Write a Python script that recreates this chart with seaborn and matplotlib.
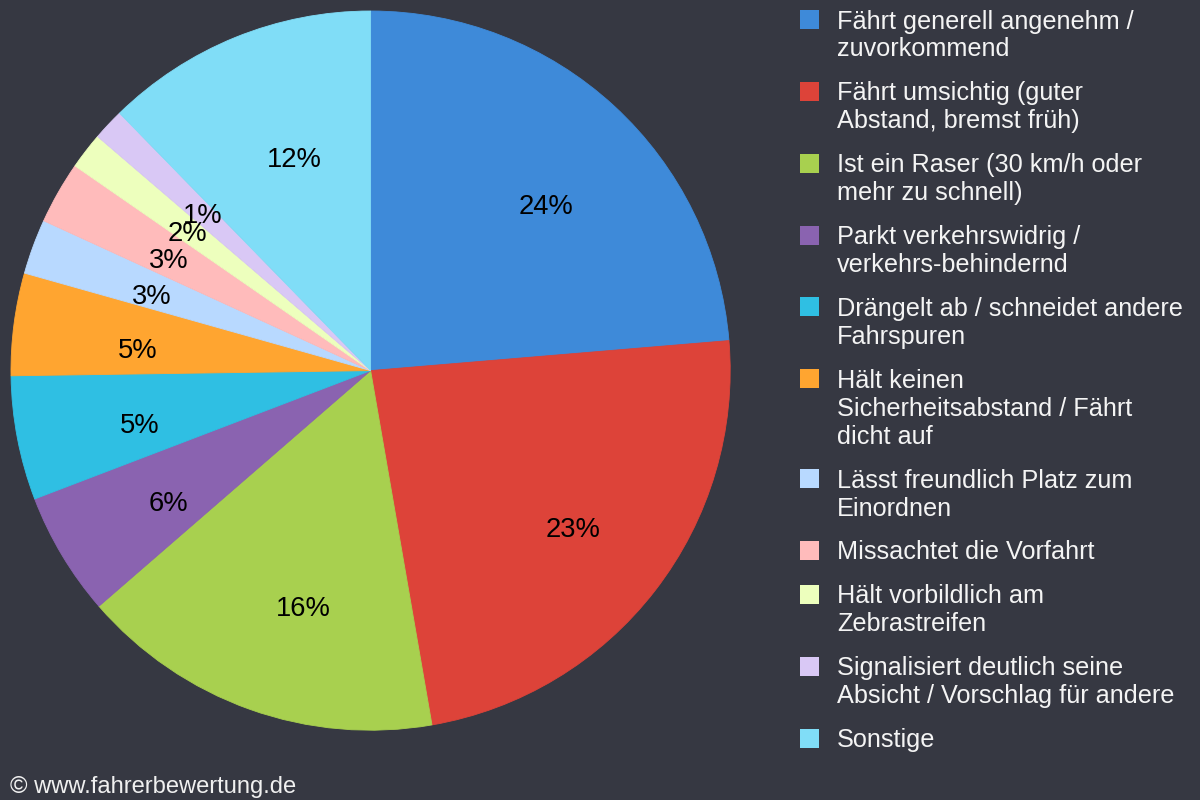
import matplotlib
matplotlib.use("Agg")
import matplotlib.pyplot as plt
import seaborn as sns
from matplotlib.patches import Rectangle

categories = [
    "Fährt generell angenehm /\nzuvorkommend",
    "Fährt umsichtig (guter\nAbstand, bremst früh)",
    "Ist ein Raser (30 km/h oder\nmehr zu schnell)",
    "Parkt verkehrswidrig /\nverkehrs-behindernd",
    "Drängelt ab / schneidet andere\nFahrspuren",
    "Hält keinen\nSicherheitsabstand / Fährt\ndicht auf",
    "Lässt freundlich Platz zum\nEinordnen",
    "Missachtet die Vorfahrt",
    "Hält vorbildlich am\nZebrastreifen",
    "Signalisiert deutlich seine\nAbsicht / Vorschlag für andere",
    "Sonstige",
]
values = [23.67, 23.6, 16.36, 5.56, 5.58, 4.6, 2.47, 2.8, 1.64, 1.42, 12.3]
pct_labels = ["24%", "23%", "16%", "6%", "5%", "5%", "3%", "3%", "2%", "1%", "12%"]
colors = ["#3E8AD9", "#DD4339", "#A8D04F", "#8A63B0", "#2FBFE3", "#FFA530",
          "#B8D9FF", "#FFBBBB", "#EDFFBD", "#D9C8F5", "#80DDF7"]
footer = "© www.fahrerbewertung.de"

# label anchor positions, in reference pixels
label_px_x = [546, 573, 303, 168.5, 139.5, 138, 152, 169, 187.5, 202.5, 294]
label_px_y = [207, 530, 609, 504, 426, 351, 297, 261, 234, 216, 160]

BG = "#363842"
W, H = 1200, 800
CX, CY, R = 370.6, 370.6, 359.6

sns.set_theme(style="white", rc={"figure.facecolor": BG, "axes.facecolor": BG})
plt.rcParams["font.family"] = ["Liberation Sans", "DejaVu Sans"]
palette = sns.color_palette(colors)

fig = plt.figure(figsize=(W / 100, H / 100), dpi=100, facecolor=BG)
ax = fig.add_axes([(CX - R) / W, 1 - (CY + R) / H, 2 * R / W, 2 * R / H])
wedges, _ = ax.pie(values, colors=palette, startangle=90, counterclock=False, radius=1,
                   wedgeprops={"linewidth": 0})
for wedge, col in zip(wedges, palette):
    wedge.set_edgecolor(col)
    wedge.set_linewidth(0.6)
ax.set_xlim(-1, 1)
ax.set_ylim(-1, 1)
ax.set_aspect("equal")
ax.axis("off")

for txt, px, py in zip(pct_labels, label_px_x, label_px_y):
    ax.text((px - CX) / R, (CY - py) / R, txt, ha="center", va="center",
            color="black", fontsize=19.7)

# legend
y = 19.3
for cat, col in zip(categories, palette):
    fig.add_artist(Rectangle((800 / W, 1 - (y + 9.7) / H), 19 / W, 19 / H,
                             transform=fig.transFigure, facecolor=col, edgecolor="none"))
    lines = cat.split("\n")
    for i, line in enumerate(lines):
        fig.text(837 / W, 1 - (y - 0.3 + 28 * i) / H, line, color="#F4F4F4", fontsize=18.17,
                 ha="left", va="center_baseline")
    y += 28 * len(lines) + 15.85

fig.text(10 / W, 1 - 785 / H, footer, color="#F0F0F0", fontsize=17.15, ha="left",
         va="center_baseline")

fig.savefig("out.png", dpi=100, facecolor=BG)
